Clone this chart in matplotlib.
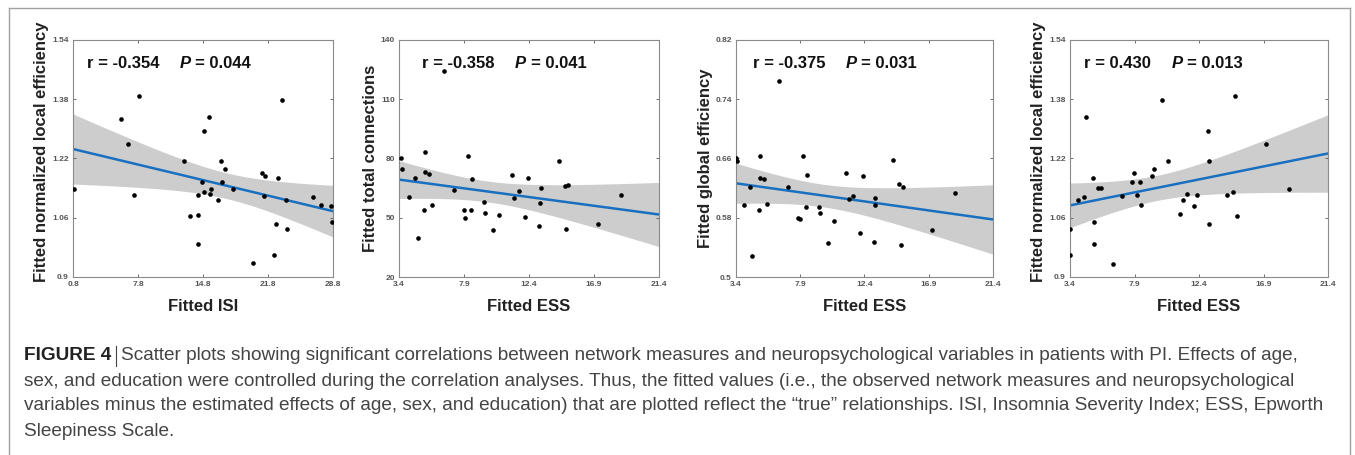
import matplotlib
matplotlib.use("Agg")
import matplotlib.pyplot as plt
from matplotlib.lines import Line2D
import numpy as np

plt.rcParams['font.family'] = ['Liberation Sans', 'DejaVu Sans']

# ---- data ----
isi = [0.9, 5.95, 6.75, 7.36, 7.86, 12.8, 13.4, 14.28, 14.31, 14.28, 14.64, 14.9,
       14.93, 15.47, 15.58, 15.65, 16.44, 16.7, 16.8, 17.12, 18.0, 20.2, 21.16,
       21.5, 21.37, 22.4, 22.66, 22.84, 23.3, 23.72, 23.9, 26.6, 27.47, 28.55, 28.7]
nle_isi = [1.138, 1.327, 1.258, 1.122, 1.388, 1.213, 1.065, 1.122, 1.068, 0.989,
           1.156, 1.129, 1.295, 1.332, 1.123, 1.138, 1.107, 1.213, 1.156, 1.191,
           1.138, 0.937, 1.181, 1.174, 1.118, 0.960, 1.043, 1.167, 1.379, 1.109,
           1.029, 1.116, 1.095, 1.092, 1.049]

ess_tc = [3.56, 3.61, 4.12, 4.53, 4.7, 5.18, 5.2, 5.15, 5.5, 5.7, 6.52, 7.18, 7.88,
          7.99, 8.18, 8.38, 8.45, 9.26, 9.35, 9.93, 10.35, 11.2, 11.36, 11.68, 12.12,
          12.33, 13.09, 13.19, 13.21, 14.45, 14.89, 15.1, 14.98, 17.15, 18.75]
total_conn = [80.2, 74.9, 60.6, 70.1, 39.6, 83.2, 73.2, 54.1, 72.0, 56.5, 124.3,
              63.8, 53.8, 49.9, 81.2, 53.9, 69.5, 58.0, 52.6, 43.7, 51.4, 71.6,
              60.1, 63.4, 50.3, 69.9, 45.9, 57.5, 64.9, 78.8, 66.3, 66.6, 44.5,
              47.0, 61.5]

ess_ge = [3.4, 3.45, 3.98, 4.38, 4.54, 5.06, 5.08, 5.03, 5.38, 5.57, 6.38, 7.06,
          7.76, 7.88, 8.09, 8.3, 8.34, 9.18, 9.28, 9.86, 10.26, 11.1, 11.3, 11.6,
          12.07, 12.26, 13.07, 13.17, 13.17, 14.43, 14.85, 15.08, 14.94, 17.13, 18.74]
glob_eff = [0.661, 0.656, 0.597, 0.622, 0.529, 0.664, 0.634, 0.591, 0.632, 0.598,
            0.764, 0.621, 0.579, 0.578, 0.664, 0.595, 0.638, 0.594, 0.587, 0.546,
            0.575, 0.640, 0.605, 0.609, 0.559, 0.637, 0.547, 0.607, 0.597, 0.658,
            0.626, 0.622, 0.543, 0.564, 0.613]

ess_nl = [3.4, 3.42, 3.98, 4.38, 4.54, 5.03, 5.05, 5.05, 5.35, 5.54, 6.37, 7.05,
          7.74, 7.88, 8.04, 8.25, 8.32, 9.14, 9.25, 9.81, 10.23, 11.09, 11.25, 11.57,
          12.02, 12.23, 13.04, 13.11, 13.11, 14.38, 14.8, 14.92, 15.03, 17.08, 18.7]
nle_ess = [0.959, 1.029, 1.107, 1.116, 1.332, 1.167, 1.049, 0.989, 1.139, 1.139,
           0.935, 1.119, 1.156, 1.181, 1.122, 1.157, 1.095, 1.174, 1.191, 1.379,
           1.213, 1.069, 1.108, 1.124, 1.091, 1.122, 1.295, 1.213, 1.042, 1.121,
           1.130, 1.388, 1.065, 1.259, 1.138]

panels = [
    dict(x=isi, y=nle_isi, xt=[0.8, 7.8, 14.8, 21.8, 28.8], yt=[0.9, 1.06, 1.22, 1.38, 1.54],
         xl='Fitted ISI', yl='Fitted normalized local efficiency', r='-0.354', p='0.044',
         rx=0.054, px=0.41, ly=0.53),
    dict(x=ess_tc, y=total_conn, xt=[3.4, 7.9, 12.4, 16.9, 21.4], yt=[20, 50, 80, 110, 140],
         xl='Fitted ESS', yl='Fitted total connections', r='-0.358', p='0.041',
         rx=0.088, px=0.446, ly=0.5),
    dict(x=ess_ge, y=glob_eff, xt=[3.4, 7.9, 12.4, 16.9, 21.4], yt=[0.5, 0.58, 0.66, 0.74, 0.82],
         xl='Fitted ESS', yl='Fitted global efficiency', r='-0.375', p='0.031',
         rx=0.066, px=0.428, ly=0.5),
    dict(x=ess_nl, y=nle_ess, xt=[3.4, 7.9, 12.4, 16.9, 21.4], yt=[0.9, 1.06, 1.22, 1.38, 1.54],
         xl='Fitted ESS', yl='Fitted normalized local efficiency', r='0.430', p='0.013',
         rx=0.054, px=0.395, ly=0.53),
]

fig = plt.figure(figsize=(13.55, 4.55), dpi=100)

# outer frame of the figure box
for xs, ys in [([9/1355, 9/1355], [0, 1 - 8/455]),
               ([9/1355, 1350/1355], [1 - 8/455, 1 - 8/455]),
               ([1350/1355, 1350/1355], [0, 1 - 8/455])]:
    fig.add_artist(Line2D(xs, ys, transform=fig.transFigure, color='#a0a0a0', lw=1))

lefts = [73, 399, 736, 1070]
widths = [260, 260, 257, 258]
T_CRIT = 2.0345  # t(0.975, df=33)

for i, pn in enumerate(panels):
    ax = fig.add_axes([lefts[i] / 1355, (455 - 277) / 455, widths[i] / 1355, 237 / 455])
    x = np.array(pn['x'])
    y = np.array(pn['y'])
    xt, yt = pn['xt'], pn['yt']

    # least squares fit with 95% CI of the mean
    n = len(x)
    b, a = np.polyfit(x, y, 1)
    resid = y - (a + b * x)
    s = np.sqrt(np.sum(resid ** 2) / (n - 2))
    xs = np.linspace(xt[0], xt[-1], 200)
    yfit = a + b * xs
    half = T_CRIT * s * np.sqrt(1 / n + (xs - x.mean()) ** 2 / np.sum((x - x.mean()) ** 2))
    ax.fill_between(xs, yfit - half, yfit + half, color='#cdcdcd', lw=0, zorder=1)
    ax.plot(xs, yfit, color='#1a70c0', lw=1.8, zorder=2)
    ax.scatter(x, y, s=11, color='black', zorder=3, lw=0)

    ax.set_xlim(xt[0], xt[-1])
    ax.set_ylim(yt[0], yt[-1])
    ax.set_xticks(xt)
    ax.set_yticks(yt)
    ax.set_xticklabels(['{:g}'.format(v) for v in xt])
    ax.set_yticklabels(['{:g}'.format(v) for v in yt])
    ax.tick_params(direction='in', length=2.5, width=0.6, colors='#555555',
                   labelsize=6, top=True, right=True, pad=3)
    for lab in ax.get_xticklabels() + ax.get_yticklabels():
        lab.set_fontweight('bold')
    for sp in ax.spines.values():
        sp.set_color('#8a8a8a')
        sp.set_linewidth(0.8)

    ax.set_xlabel(pn['xl'], fontsize=12, fontweight='bold', color='#222222', labelpad=8)
    ax.set_ylabel(pn['yl'], fontsize=12, fontweight='bold', color='#222222', labelpad=2)
    ax.yaxis.label.set_y(pn['ly'])

    ax.text(pn['rx'], 0.9, 'r = ' + pn['r'], transform=ax.transAxes, fontsize=12,
            fontweight='bold', color='#111111', va='center')
    ax.text(pn['px'], 0.9, 'P', transform=ax.transAxes,
            fontsize=12, fontweight='bold', style='italic', color='#111111', va='center')
    ax.text(pn['px'] + 0.06, 0.9, '= ' + pn['p'], transform=ax.transAxes, fontsize=12,
            fontweight='bold', color='#111111', va='center')

# caption
cap_lines = [
    'Scatter plots showing significant correlations between network measures and neuropsychological variables in patients with PI. Effects of age,',
    'sex, and education were controlled during the correlation analyses. Thus, the fitted values (i.e., the observed network measures and neuropsychological',
    'variables minus the estimated effects of age, sex, and education) that are plotted reflect the \u201ctrue\u201d relationships. ISI, Insomnia Severity Index; ESS, Epworth',
    'Sleepiness Scale.',
]
fs_cap = 13.7
x0 = 24 / 1355
y0 = 1 - 356 / 455
dy = 25 / 455
renderer = fig.canvas.get_renderer()
t_bold = fig.text(x0, y0, 'FIGURE 4', fontsize=fs_cap, fontweight='bold', color='#222222', va='center')
bb = t_bold.get_window_extent(renderer)
bar_x = bb.x1 / 1355 + 5 / 1355
fig.add_artist(Line2D([bar_x, bar_x], [y0 - 10 / 455, y0 + 10 / 455], transform=fig.transFigure,
                      color='#444444', lw=0.8))
fig.text(bar_x + 5 / 1355, y0, cap_lines[0], fontsize=fs_cap, color='#444444', va='center')
for k, line in enumerate(cap_lines[1:], start=1):
    fig.text(x0, y0 - k * dy, line, fontsize=fs_cap, color='#444444', va='center')

fig.savefig('out.png', dpi=100)
